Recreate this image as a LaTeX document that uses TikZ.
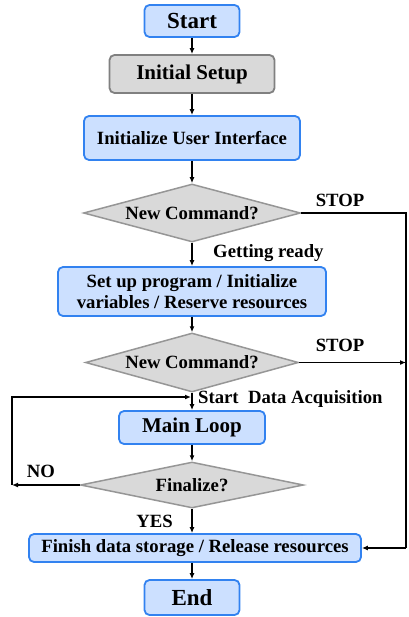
\documentclass[tikz,border=0pt]{standalone}
\usepackage{fontspec}
\setmainfont{Liberation Serif}
\usetikzlibrary{shapes.geometric,arrows.meta}
\definecolor{bluefill}{RGB}{204,224,255}
\definecolor{blueline}{RGB}{50,130,240}
\definecolor{grayfill}{RGB}{217,217,217}
\definecolor{grayline}{RGB}{128,128,128}
\definecolor{dgline}{RGB}{150,150,150}
\begin{document}
\begin{tikzpicture}[x=1pt,y=-1pt,
  bluebox/.style={draw=blueline,fill=bluefill,line width=1.8pt,rounded corners=5pt,inner sep=0pt,font=\bfseries\fontsize{18.7}{21}\selectfont,align=center},
  graybox/.style={draw=grayline,fill=grayfill,line width=1.8pt,rounded corners=5pt,inner sep=0pt,font=\bfseries\fontsize{21}{24}\selectfont},
  decision/.style={diamond,draw=dgline,fill=grayfill,line width=1.5pt,inner sep=0pt,aspect=3.7,font=\bfseries\fontsize{18.7}{21}\selectfont},
  lbl/.style={inner sep=0pt,font=\bfseries\fontsize{18.7}{21}\selectfont},
  arr/.style={line width=1.8pt,-{Latex[length=6pt,width=5pt]}},
  ln/.style={line width=1.8pt}]
\useasboundingbox (0,0) rectangle (408,617);
\node[bluebox,minimum width=95pt,minimum height=32pt,font=\bfseries\fontsize{23}{26}\selectfont] (start) at (192,21) {Start};
\node[graybox,minimum width=165pt,minimum height=38pt] (setup) at (192,74) {Initial Setup};
\node[bluebox,minimum width=216pt,minimum height=44pt] (ui) at (192,138) {Initialize User Interface};
\node[decision,minimum width=217pt,minimum height=58pt] (d1) at (192,213) {New Command?};
\node[bluebox,minimum width=268pt,minimum height=49pt] (prog) at (192,291.5) {Set up program / Initialize\\variables / Reserve resources};
\node[decision,minimum width=213pt,minimum height=59pt] (d2) at (192,362.5) {New Command?};
\node[bluebox,minimum width=146pt,minimum height=33pt,font=\bfseries\fontsize{21}{24}\selectfont] (loop) at (192,427.5) {Main Loop};
\node[decision,minimum width=223pt,minimum height=46pt] (d3) at (192,485) {Finalize?};
\node[bluebox,minimum width=332pt,minimum height=28pt] (fin) at (195,548) {Finish data storage / Release resources};
\node[bluebox,minimum width=95pt,minimum height=35pt,font=\bfseries\fontsize{23}{26}\selectfont] (end) at (192,597.5) {End};

\node[lbl] (stop1) at (340,200) {STOP};
\node[lbl] (stop2) at (340,345) {STOP};
\node[lbl,anchor=west] (ready) at (213,253) {Getting ready};
\node[lbl,anchor=west] (acq) at (198,399) {Start\ \ Data Acquisition};
\node[lbl] (no) at (41,471) {NO};
\node[lbl] (yes) at (154.5,521) {YES};

\coordinate (r1) at (406,213);
\coordinate (r2) at (406,362.5);
\coordinate (r3) at (406,548);
\coordinate (l1) at (12,485);
\coordinate (l2) at (12,397);
\coordinate (j) at (191,397);

\draw[arr] (start) -- (setup);
\draw[arr] (setup) -- (ui);
\draw[arr] (ui) -- (d1);
\draw[arr] (d1) -- (prog);
\draw[arr] (prog) -- (d2);
\draw[arr] (d2) -- (loop);
\draw[arr] (loop) -- (d3);
\draw[arr] (d3.south) -- (d3.south |- fin.north);
\draw[arr] (fin.south -| end.north) -- (end);
\draw[ln] (d1.east) -- (r1) -- (r3);
\draw[arr] (r3) -- (fin.east);
\draw[arr] (d2.east) -- (r2);
\draw[arr] (d3.west) -- (l1);
\draw[arr] (l1) -- (l2) -- (j);
\end{tikzpicture}
\end{document}
